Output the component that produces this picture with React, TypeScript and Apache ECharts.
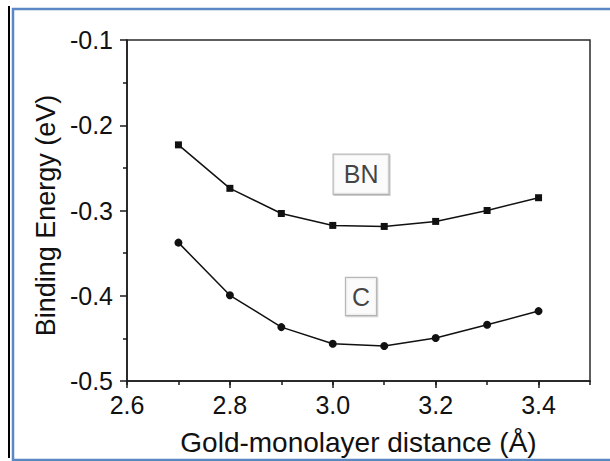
import React, { useEffect, useRef } from "react";
import * as echarts from "echarts";

const distances = [2.7, 2.8, 2.9, 3.0, 3.1, 3.2, 3.3, 3.4];
const bnEnergy = [-0.223, -0.274, -0.3035, -0.3175, -0.3187, -0.3128, -0.3, -0.285];
const cEnergy = [-0.3377, -0.3995, -0.4368, -0.4563, -0.459, -0.4496, -0.434, -0.418];
const annotationNames = ["BN", "C"];
const annotationX = [3.055, 3.055];
const annotationY = [-0.2574, -0.4009];
const annotationPadding = [[8, 10, 6, 10], [7, 6, 5, 6]];

const FONT = "'Liberation Sans', Arial, sans-serif";

export default function App() {
  const ref = useRef<HTMLDivElement>(null);
  useEffect(() => {
    if (!ref.current) return;
    const chart = echarts.init(ref.current, null, { renderer: "svg" });
    const axisColor = "#1a1a1a";
    chart.setOption({
      animation: false,
      backgroundColor: "#ffffff",
      textStyle: { fontFamily: FONT },
      grid: {
        left: 127,
        right: 20,
        top: 40,
        bottom: 78,
        show: true,
        borderColor: "#2a2a2a",
        borderWidth: 1.5,
        backgroundColor: "transparent",
      },
      graphic: [
        {
          type: "line",
          shape: { x1: 9, y1: 6, x2: 9, y2: 458 },
          style: { stroke: "#000", lineWidth: 2 },
          silent: true,
        },
        {
          type: "rect",
          shape: { x: 13, y: 9, width: 620, height: 451 },
          style: { stroke: "#5b88c4", lineWidth: 2.5, fill: "none" },
          silent: true,
        },
      ],
      xAxis: [
        {
          type: "value",
          position: "bottom",
          min: 2.6,
          max: 3.5,
          interval: 0.2,
          name: "Gold-monolayer distance (Å)",
          nameLocation: "middle",
          nameGap: 47,
          nameTextStyle: { fontFamily: FONT, fontSize: 28, color: "#111" },
          axisLine: { show: true, lineStyle: { color: axisColor, width: 1.5 } },
          axisTick: { show: true, inside: false, length: 7, lineStyle: { color: axisColor, width: 1.5 } },
          axisLabel: {
            show: true,
            margin: 11,
            fontFamily: FONT,
            fontSize: 25,
            color: "#111",
            showMaxLabel: false,
            formatter: (v: number) => (v > 3.45 ? "" : v.toFixed(1)),
          },
          splitLine: { show: false },
        },
        {
          type: "value",
          position: "bottom",
          offset: 0,
          min: 2.6,
          max: 3.5,
          interval: 0.1,
          axisLine: { show: false },
          axisTick: { show: true, inside: false, length: 4, lineStyle: { color: axisColor, width: 1.5 } },
          axisLabel: { show: false },
          splitLine: { show: false },
        },
      ],
      yAxis: {
        type: "value",
        min: -0.5,
        max: -0.1,
        interval: 0.1,
        name: "Binding Energy (eV)",
        nameLocation: "middle",
        nameGap: 68,
        nameTextStyle: { fontFamily: FONT, fontSize: 27, color: "#111", padding: [0, 10, 0, 0] },
        axisLine: { show: true, lineStyle: { color: axisColor, width: 1.5 } },
        axisTick: { show: true, inside: false, length: 7, lineStyle: { color: axisColor, width: 1.5 } },
        minorTick: { show: true, splitNumber: 2, length: 4, lineStyle: { color: axisColor, width: 1.5 } },
        axisLabel: {
          margin: 14,
          fontFamily: FONT,
          fontSize: 25,
          color: "#111",
          formatter: (v: number) => v.toFixed(1),
        },
        splitLine: { show: false },
      },
      series: [
        {
          name: "BN",
          type: "line",
          xAxisIndex: 0,
          data: distances.map((d, i) => [d, bnEnergy[i]]),
          symbol: "rect",
          symbolSize: 7,
          showAllSymbol: true,
          lineStyle: { color: "#111", width: 1.5 },
          itemStyle: { color: "#111" },
        },
        {
          name: "C",
          type: "line",
          xAxisIndex: 0,
          data: distances.map((d, i) => [d, cEnergy[i]]),
          symbol: "circle",
          symbolSize: 8,
          showAllSymbol: true,
          lineStyle: { color: "#111", width: 1.5 },
          itemStyle: { color: "#111" },
        },
        {
          name: "labels",
          type: "scatter",
          xAxisIndex: 0,
          symbolSize: 1,
          itemStyle: { color: "transparent" },
          data: annotationNames.map((n, i) => ({
            name: n,
            value: [annotationX[i], annotationY[i]],
            label: {
              show: true,
              position: "inside",
              formatter: n,
              fontFamily: FONT,
              fontSize: 25,
              color: "#111",
              backgroundColor: "#fff",
              borderColor: "#a8a8a8",
              borderWidth: 1.2,
              padding: annotationPadding[i],
              shadowColor: "rgba(0,0,0,0.25)",
              shadowOffsetX: 1,
              shadowOffsetY: 1,
              shadowBlur: 1,
            },
          })),
        },
      ],
    });
    return () => chart.dispose();
  }, []);
  return (
    <div
      ref={ref}
      style={{ position: "absolute", left: 0, top: 0, width: 610, height: 461 }}
    />
  );
}
